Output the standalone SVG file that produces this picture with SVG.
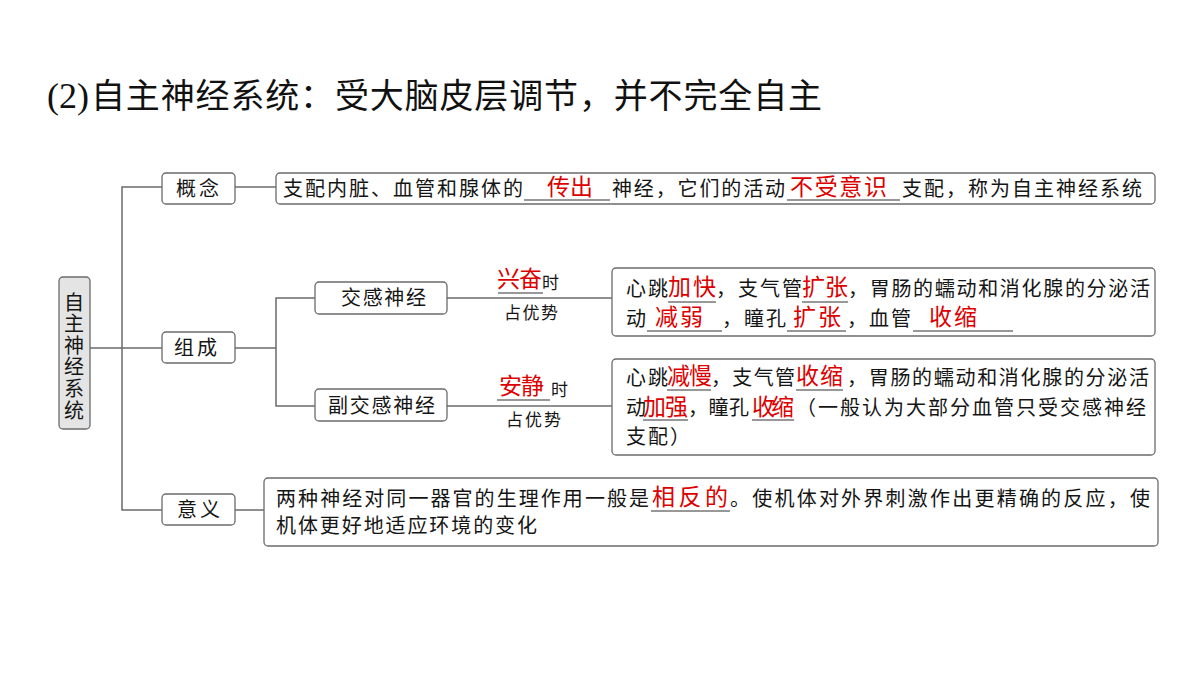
<svg xmlns="http://www.w3.org/2000/svg" width="1200" height="675" viewBox="0 0 1200 675">
<style>
.bx{fill:#fff;stroke:#6b6b6b;stroke-width:1.3}
.rootbx{fill:#e4e4e4;stroke:#6b6b6b;stroke-width:1.3}
.t{font-family:"Noto Sans CJK SC","Noto Sans",sans-serif;font-size:20px;fill:#151515}
.r{font-family:"Noto Sans CJK SC","Noto Sans",sans-serif;font-size:23px;fill:#dd0000}
.s{font-family:"Noto Sans CJK SC","Noto Sans",sans-serif;font-size:17px;fill:#151515}
.u{stroke:#333;stroke-width:1.2;fill:none}
.c{stroke:#6b6b6b;stroke-width:1.5;fill:none}
</style>
<rect width="1200" height="675" fill="#fff"/>
<g id="title">
<text x="47" y="108" font-family="Liberation Serif,serif" font-size="36" fill="#111">(2)</text>
<text x="91" y="108" font-family="Noto Sans CJK SC,sans-serif" font-size="34" fill="#111" textLength="731" lengthAdjust="spacing">自主神经系统：受大脑皮层调节，并不完全自主</text>
</g>
<g id="connectors">
<path class="c" d="M90 348H162M162 187H122V510H162"/>
<path class="c" d="M235 187H276"/>
<path class="c" d="M235 348H276M315 298H276V406H315"/>
<path class="c" d="M447 298H612"/>
<path class="c" d="M447 406H612"/>
<path class="c" d="M235 510H264"/>
</g>
<g id="label-sym">
<text class="r" x="497" y="287" textLength="45" lengthAdjust="spacing">兴奋</text>
<text class="s" x="542" y="289">时</text>
<line class="u" x1="498" y1="293" x2="543" y2="293"/>
<text class="s" x="504" y="319" textLength="54" lengthAdjust="spacing">占优势</text>
</g>
<g id="label-para">
<text class="r" x="499" y="394" textLength="45" lengthAdjust="spacing">安静</text>
<text class="s" x="551" y="396">时</text>
<line class="u" x1="497" y1="400" x2="550" y2="400"/>
<text class="s" x="506" y="426" textLength="55" lengthAdjust="spacing">占优势</text>
</g>
<g id="root">
<rect class="rootbx" x="59" y="277" width="31" height="152" rx="4"/>
<text class="t" x="74" y="292" writing-mode="tb" letter-spacing="1.6">自主神经系统</text>
</g>
<g id="gainian">
<rect class="bx" x="162" y="173" width="73" height="31" rx="4"/>
<text class="t" x="176" y="196" textLength="43" lengthAdjust="spacing">概念</text>
</g>
<g id="gainian-text">
<rect class="bx" x="276" y="173" width="879" height="31" rx="4"/>
<text class="t" x="283" y="196" textLength="240" lengthAdjust="spacing">支配内脏、血管和腺体的</text>
<line class="u" x1="524" y1="200" x2="610" y2="200"/>
<text class="r" x="547" y="195" textLength="46" lengthAdjust="spacing">传出</text>
<text class="t" x="612" y="196" textLength="173" lengthAdjust="spacing">神经，它们的活动</text>
<line class="u" x1="787" y1="200" x2="900" y2="200"/>
<text class="r" x="790" y="195" font-size="24" textLength="97" lengthAdjust="spacing">不受意识</text>
<text class="t" x="902" y="196" textLength="240" lengthAdjust="spacing">支配，称为自主神经系统</text>
</g>
<g id="zucheng">
<rect class="bx" x="162" y="332" width="73" height="31" rx="4"/>
<text class="t" x="174" y="355" textLength="43" lengthAdjust="spacing">组成</text>
</g>
<g id="jiaogan">
<rect class="bx" x="315" y="282" width="132" height="32" rx="4"/>
<text class="t" x="341" y="305" textLength="85" lengthAdjust="spacing">交感神经</text>
</g>
<g id="fujiaogan">
<rect class="bx" x="315" y="389" width="132" height="32" rx="4"/>
<text class="t" x="328" y="413" textLength="107" lengthAdjust="spacing">副交感神经</text>
</g>
<g id="jiaogan-effect">
<rect class="bx" x="612" y="268" width="543" height="68" rx="4"/>
<text class="t" x="626" y="296" textLength="42" lengthAdjust="spacing">心跳</text>
<text class="r" x="668" y="295" font-size="24" textLength="48" lengthAdjust="spacing">加快</text>
<line class="u" x1="668" y1="302" x2="716" y2="302"/>
<text class="t" x="716" y="296" textLength="86" lengthAdjust="spacing">，支气管</text>
<text class="r" x="802" y="295" font-size="24" textLength="46" lengthAdjust="spacing">扩张</text>
<line class="u" x1="802" y1="302" x2="848" y2="302"/>
<text class="t" x="848" y="296" textLength="302" lengthAdjust="spacing">，胃肠的蠕动和消化腺的分泌活</text>
<text class="t" x="626" y="326">动</text>
<line class="u" x1="647" y1="331" x2="722" y2="331"/>
<text class="r" x="655" y="325" font-size="24" textLength="48" lengthAdjust="spacing">减弱</text>
<text class="t" x="722" y="326" textLength="64" lengthAdjust="spacing">，瞳孔</text>
<line class="u" x1="787" y1="331" x2="846" y2="331"/>
<text class="r" x="793" y="325" font-size="24" textLength="48" lengthAdjust="spacing">扩张</text>
<text class="t" x="847" y="326" textLength="64" lengthAdjust="spacing">，血管</text>
<line class="u" x1="913" y1="331" x2="1013" y2="331"/>
<text class="r" x="929" y="325" font-size="24" textLength="48" lengthAdjust="spacing">收缩</text>
</g>
<g id="fujiaogan-effect">
<rect class="bx" x="612" y="359" width="543" height="96" rx="4"/>
<text class="t" x="626" y="385" textLength="42" lengthAdjust="spacing">心跳</text>
<text class="r" x="667" y="384" font-size="22" textLength="45" lengthAdjust="spacing">减慢</text>
<line class="u" x1="667" y1="390" x2="711" y2="390"/>
<text class="t" x="711" y="385" textLength="84" lengthAdjust="spacing">，支气管</text>
<text class="r" x="796" y="384" font-size="22" textLength="47" lengthAdjust="spacing">收缩</text>
<line class="u" x1="796" y1="390" x2="843" y2="390"/>
<text class="t" x="847" y="385" textLength="302" lengthAdjust="spacing">，胃肠的蠕动和消化腺的分泌活</text>
<text class="t" x="626" y="415">动</text>
<text class="r" x="643" y="415" font-size="21" textLength="45" lengthAdjust="spacing">加强</text>
<line class="u" x1="643" y1="420" x2="688" y2="420"/>
<text class="t" x="688" y="415" textLength="61" lengthAdjust="spacing">，瞳孔</text>
<text class="r" x="752" y="415" font-size="21" textLength="42" lengthAdjust="spacing">收缩</text>
<line class="u" x1="752" y1="420" x2="794" y2="420"/>
<text class="t" x="796" y="415" textLength="350" lengthAdjust="spacing">（一般认为大部分血管只受交感神经</text>
<text class="t" x="626" y="444" textLength="64" lengthAdjust="spacing">支配）</text>
</g>
<g id="yiyi">
<rect class="bx" x="162" y="494" width="73" height="31" rx="4"/>
<text class="t" x="177" y="517" textLength="43" lengthAdjust="spacing">意义</text>
</g>
<g id="yiyi-text">
<rect class="bx" x="264" y="478" width="894" height="68" rx="4"/>
<text class="t" x="276" y="506" textLength="373" lengthAdjust="spacing">两种神经对同一器官的生理作用一般是</text>
<text class="r" x="652" y="505" textLength="76" lengthAdjust="spacing">相反的</text>
<line class="u" x1="651" y1="511" x2="730" y2="511"/>
<text class="t" x="730" y="506" textLength="420" lengthAdjust="spacing">。使机体对外界刺激作出更精确的反应，使</text>
<text class="t" x="276" y="533" textLength="261" lengthAdjust="spacing">机体更好地适应环境的变化</text>
</g>
</svg>
